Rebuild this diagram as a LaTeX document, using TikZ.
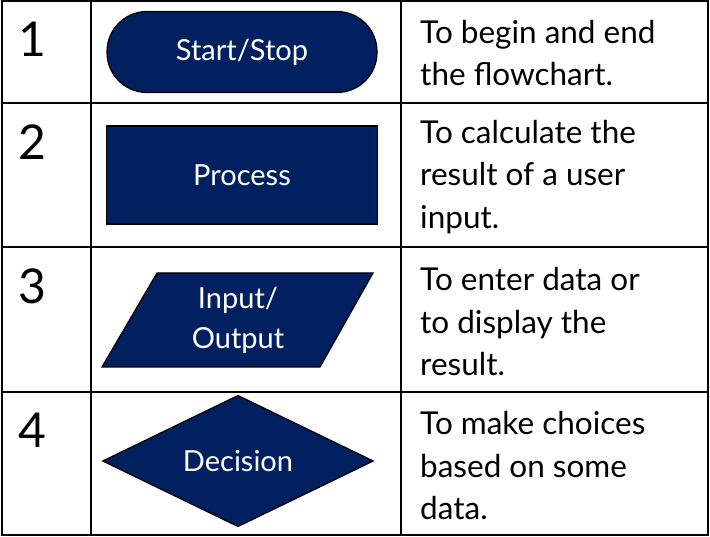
\documentclass[tikz,border=0pt]{standalone}
\usepackage{fontspec}
\setmainfont{Lato}
\usepackage{tikz}
\usetikzlibrary{shapes.geometric}
\definecolor{navy}{RGB}{0,32,96}

\begin{document}
\begin{tikzpicture}[x=1pt,y=-1pt,
    symbolbox/.style={draw=black,line width=1.2pt,fill=navy,text=white,inner sep=0pt,
        font=\fontsize{29}{40}\selectfont,align=center},
    numtext/.style={anchor=north,inner sep=0pt,font=\fontsize{48}{48}\selectfont},
    desctext/.style={anchor=west,inner sep=0pt,align=left,font=\fontsize{31.5}{42.5}\selectfont},
    gridline/.style={line width=1.8pt}]
    \useasboundingbox (0,0) rectangle (710,537);

    % table frame
    \draw[gridline] (2,1) rectangle (708,535);
    \draw[gridline] (91,1) -- (91,535);
    \draw[gridline] (401,1) -- (401,535);
    \foreach \rowy in {103,247,392}
        \draw[gridline] (2,\rowy) -- (708,\rowy);

    % numbers
    \node[numtext] (num1) at (32,22) {1};
    \node[numtext] (num2) at (32,125) {2};
    \node[numtext] (num3) at (32,269) {3};
    \node[numtext] (num4) at (32,413) {4};

    % symbols
    \node[symbolbox,rectangle,rounded corners=40pt,minimum width=270pt,minimum height=81pt]
        (startstop) at (242,52) {Start/Stop};
    \node[symbolbox,rectangle,minimum width=271pt,minimum height=98pt]
        (process) at (242,175) {Process};
    \draw[symbolbox] (157,273) -- (373,273) -- (320,367) -- (102,367) -- cycle;
    \node[text=white,font=\fontsize{29}{40}\selectfont,align=center,inner sep=0pt]
        (inout) at (238,320) {Input/\\Output};
    \node[symbolbox,diamond,minimum width=271pt,minimum height=131pt]
        (decision) at (238,461) {Decision};

    % descriptions
    \node[desctext] (desc1) at (420,53) {To begin and end\\the flowchart.};
    \node[desctext] (desc2) at (420,177) {To calculate the\\result of a user\\input.};
    \node[desctext] (desc3) at (420,322) {To enter data or\\to display the\\result.};
    \node[desctext] (desc4) at (420,466) {To make choices\\based on some\\data.};
\end{tikzpicture}
\end{document}
